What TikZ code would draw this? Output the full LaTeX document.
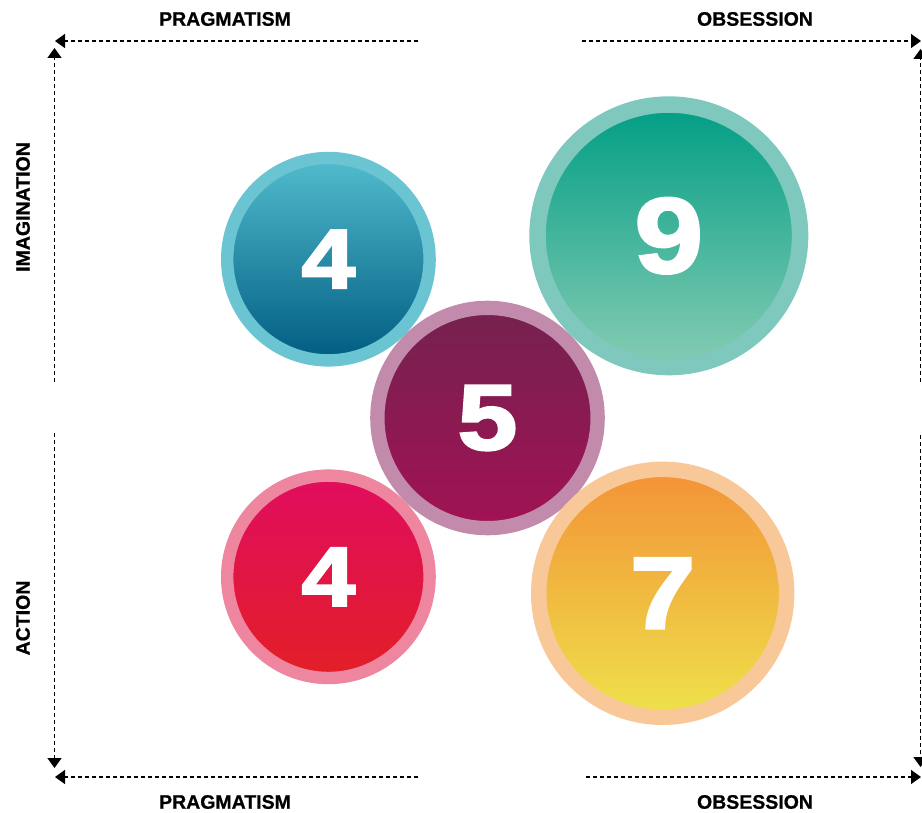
\documentclass[tikz,border=0pt]{standalone}
\usepackage{fontspec}
\setmainfont{Liberation Sans}
\newfontfamily\heavyfont{Liberation Sans Bold}[FakeBold=2.5]
\newfontfamily\labelfont{Liberation Sans Bold}[FakeBold=0.8]
\usepackage{graphicx}
\usetikzlibrary{arrows.meta}

\definecolor{blueRing}{HTML}{6BC4D2}
\definecolor{blueTop}{HTML}{52BCCD}
\definecolor{blueBot}{HTML}{005C82}
\definecolor{greenRing}{HTML}{7FC8BE}
\definecolor{greenTop}{HTML}{009E85}
\definecolor{greenBot}{HTML}{86CCB3}
\definecolor{plumRing}{HTML}{C28BAB}
\definecolor{plumTop}{HTML}{74224F}
\definecolor{plumBot}{HTML}{A21254}
\definecolor{redRing}{HTML}{EE869F}
\definecolor{redTop}{HTML}{E10C5F}
\definecolor{redBot}{HTML}{E21F26}
\definecolor{orangeRing}{HTML}{F8C899}
\definecolor{orangeTop}{HTML}{F39237}
\definecolor{orangeBot}{HTML}{EEE24A}

\begin{document}
\begin{tikzpicture}[x=1pt, y=-1pt,
    axis/.style={line width=1.5pt, dash pattern=on 4pt off 3pt, -{Triangle[length=10pt, width=14pt]}},
    axislabel/.style={font=\labelfont\fontsize{19.5}{19.5}\selectfont},
    bubble/.style={circle, inner sep=0pt, text=white, font=\heavyfont\fontsize{#1}{#1}\selectfont}]
    \useasboundingbox (0,0) rectangle (922,813);

    % Axis labels
    \node[axislabel] (pragTop) at (225,19) {PRAGMATISM};
    \node[axislabel] (obsTop) at (755,19) {OBSESSION};
    \node[axislabel] (pragBot) at (225,802) {PRAGMATISM};
    \node[axislabel] (obsBot) at (755,802) {OBSESSION};
    \node[axislabel, rotate=90] (imag) at (23,207) {IMAGINATION};
    \node[axislabel, rotate=90] (act) at (23,618) {ACTION};

    % Axis ends
    \coordinate (topL) at (418,41);   \coordinate (topLtip) at (55,41);
    \coordinate (topR) at (582,41);   \coordinate (topRtip) at (921,41);
    \coordinate (botL) at (418,777);  \coordinate (botLtip) at (55,777);
    \coordinate (botR) at (586,777);  \coordinate (botRtip) at (921,777);
    \coordinate (leftU) at (54.5,382);  \coordinate (leftUtip) at (54.5,48);
    \coordinate (leftD) at (54.5,433);  \coordinate (leftDtip) at (54.5,768);
    \coordinate (rightU) at (920.5,382); \coordinate (rightUtip) at (920.5,49);
    \coordinate (rightD) at (920.5,435); \coordinate (rightDtip) at (920.5,767);

    % Dashed axes
    \draw[axis] (topL) -- (topLtip);
    \draw[axis] (topR) -- (topRtip);
    \draw[axis] (botL) -- (botLtip);
    \draw[axis] (botR) -- (botRtip);
    \draw[axis] (leftU) -- (leftUtip);
    \draw[axis] (leftD) -- (leftDtip);
    \draw[axis] (rightU) -- (rightUtip);
    \draw[axis] (rightD) -- (rightDtip);

    % Bubbles
    \node[bubble=84, draw=blueRing, line width=12.4pt, minimum size=202.4pt,
          top color=blueTop, bottom color=blueBot] (imagPrag) at (328.4,259.2) {\scalebox{1.15}[1]{4}};
    \node[bubble=107, draw=greenRing, line width=16.5pt, minimum size=262.5pt,
          top color=greenTop, bottom color=greenBot] (imagObs) at (668.8,235.8) {\scalebox{1.15}[1]{9}};
    \node[bubble=93, draw=plumRing, line width=14.3pt, minimum size=220.3pt,
          top color=plumTop, bottom color=plumBot] (centre) at (487.5,418) {\scalebox{1.15}[1]{5}};
    \node[bubble=84, draw=redRing, line width=12.4pt, minimum size=202.4pt,
          top color=redTop, bottom color=redBot] (actPrag) at (328.4,576.8) {\scalebox{1.15}[1]{4}};
    \node[bubble=102, draw=orangeRing, line width=15.5pt, minimum size=247.9pt,
          top color=orangeTop, bottom color=orangeBot] (actObs) at (662.7,593.3) {\scalebox{1.15}[1]{7}};
\end{tikzpicture}
\end{document}
